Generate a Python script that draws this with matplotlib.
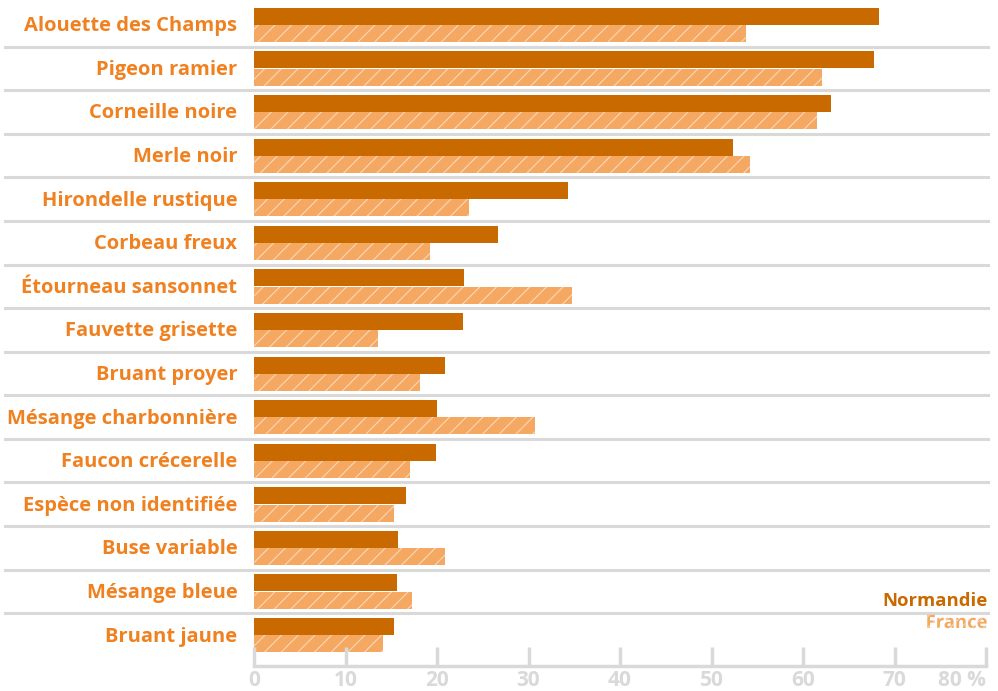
import numpy as np
import matplotlib.pyplot as plt
import matplotlib.patheffects as pe
from matplotlib.transforms import ScaledTranslation

species = ["Alouette des Champs", "Pigeon ramier", "Corneille noire", "Merle noir",
           "Hirondelle rustique", "Corbeau freux", "Étourneau sansonnet",
           "Fauvette grisette", "Bruant proyer", "Mésange charbonnière",
           "Faucon crécerelle", "Espèce non identifiée", "Buse variable",
           "Mésange bleue", "Bruant jaune"]
normandie = [68.3, 67.8, 63.1, 52.3, 34.3, 26.7, 23.0, 22.8, 20.9, 20.0, 19.9, 16.6, 15.7, 15.6, 15.3]
france = [53.8, 62.1, 61.5, 54.2, 23.5, 19.2, 34.8, 13.6, 18.1, 30.7, 17.0, 15.3, 20.9, 17.3, 14.1]
ticks = [0, 10, 20, 30, 40, 50, 60, 70, 80]
tick_labels = ["0", "10", "20", "30", "40", "50", "60", "70", "80 %"]

dark = "#C96A00"
light = "#F4A862"
label_col = "#F08121"
grey = "#D9D9D9"

plt.rcParams['font.family'] = ['Open Sans', 'DejaVu Sans']
plt.rcParams['hatch.linewidth'] = 0.8

fig = plt.figure(figsize=(9.98, 6.91), dpi=100)
W, H = 998, 691
ax = fig.add_axes([254 / W, 1 - 666 / H, (986 - 254) / W, (666 - 3) / H])

y = np.arange(len(species))
ax.barh(y - 0.195, normandie, height=0.39, color=dark, lw=0)
ax.barh(y + 0.2, france, height=0.39, color=light, edgecolor=(1, 1, 1, 0.55),
        lw=0, hatch='//')

ax.set_ylim(len(species) - 0.29, -0.5)
ax.set_xlim(0, 80)

# separators between rows
trans = ax.get_yaxis_transform()
x0 = -(254 - 5) / (986 - 254)
x1 = (988 - 254) / (986 - 254)
for i in range(len(species) - 1):
    ax.plot([x0, x1], [i + 0.5, i + 0.5], color=grey, lw=2.2, transform=trans,
            clip_on=False, zorder=0)

ax.set_yticks(y)
ax.set_yticklabels(species, color=label_col, fontsize=14.5, fontweight='bold')
ax.tick_params(axis='y', length=0, pad=12)
up = ScaledTranslation(0, 1 / 100, fig.dpi_scale_trans)
for lab in ax.get_yticklabels():
    lab.set_transform(lab.get_transform() + up)

ax.set_xticks(ticks)
ax.set_xticklabels(tick_labels, color=grey, fontsize=15, fontweight='bold')
ax.get_xticklabels()[-1].set_horizontalalignment('right')
ax.tick_params(axis='x', direction='in', length=14, width=2.5, color=grey, pad=3)

for s in ['top', 'right', 'left']:
    ax.spines[s].set_visible(False)
ax.spines['bottom'].set_color(grey)
ax.spines['bottom'].set_linewidth(2.5)

fig.text(988 / W, 1 - 601 / H, "Normandie", color=dark, fontsize=13.3,
         fontweight='bold', ha='right', va='center')
fig.text(988 / W, 1 - 623 / H, "France", color=light, fontsize=13.3,
         fontweight='bold', ha='right', va='center',
         path_effects=[pe.PathPatchEffect(facecolor=light, edgecolor=(1, 1, 1, 0.5),
                                           lw=0, hatch='///')])

fig.savefig("out.png", dpi=100)
